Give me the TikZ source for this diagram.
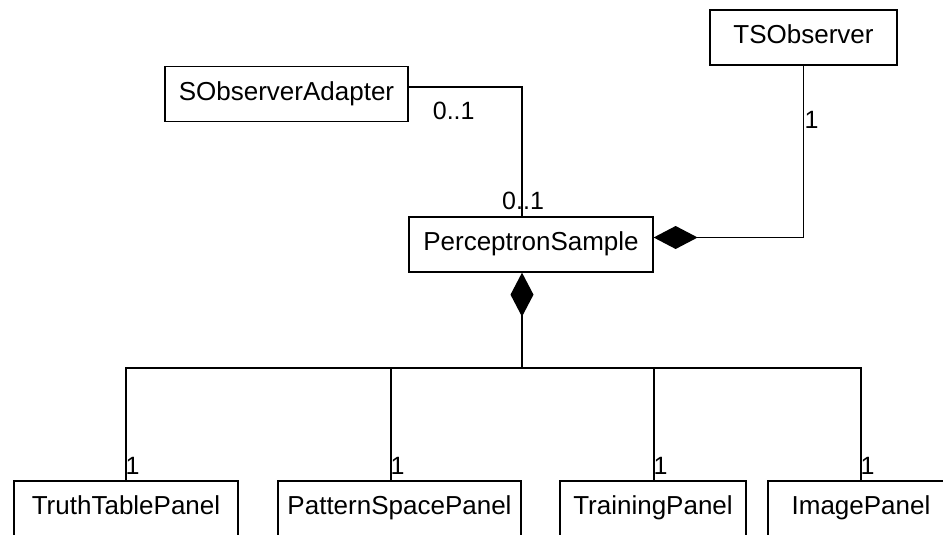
\documentclass[tikz,border=0pt]{standalone}
\usepackage{fontspec}
\setmainfont{Liberation Sans}
\usepackage{tikz}
\usetikzlibrary{arrows.meta, positioning}

\begin{document}
\begin{tikzpicture}[
    x=1pt, y=-1pt,
    umlclass/.style={rectangle, draw=black, fill=white, line width=1.3pt,
                     minimum height=55pt, inner sep=0pt, text height=19pt, text depth=7pt,
                     font=\fontsize{26}{30}\selectfont},
    assoc/.style={draw=black, line width=1.3pt},
    composition/.style={assoc, {Diamond[length=44pt, width=23pt]}-},
    mult/.style={font=\fontsize{25}{30}\selectfont, inner sep=0pt, anchor=base west}
]
\useasboundingbox (0,0) rectangle (943,535);
\clip (0,0) rectangle (943,535);

% classes
\node[umlclass, minimum width=243pt] (adapter) at (286.5,94) {SObserverAdapter};
\node[umlclass, minimum width=187pt] (tso) at (803.5,37.5) {TSObserver};
\node[umlclass, minimum width=244pt] (sample) at (531,244.5) {PerceptronSample};

\node[umlclass, minimum width=224pt] (truth) at (126,508.5) {TruthTablePanel};
\node[umlclass, minimum width=243pt] (pattern) at (399.5,508.5) {PatternSpacePanel};
\node[umlclass, minimum width=186pt] (training) at (653,508.5) {TrainingPanel};
\node[umlclass, minimum width=186pt] (image) at (861,508.5) {ImagePanel};

% associations
\draw[assoc] ([yshift=7pt]adapter.east) -| ([xshift=-9pt]sample.north);
\node[mult] at ([xshift=24pt, yshift=-26pt]adapter.east) {0..1};
\node[mult] at ([xshift=-29pt, yshift=7pt]sample.north) {0..1};

\draw[composition] ([yshift=7pt]sample.east) -| (tso.south);
\node[mult] at ([xshift=1pt, yshift=-63pt]tso.south) {1};

% panels
\coordinate (bus) at (522,368);
\draw[composition] ([xshift=-9pt]sample.south) -- (bus);
\draw[assoc] (bus) -| (truth.north) node[mult, pos=1, xshift=-1pt, yshift=6pt] {1};
\draw[assoc] (bus) -| ([xshift=-8.5pt]pattern.north) node[mult, pos=1, xshift=-1pt, yshift=6pt] {1};
\draw[assoc] (bus) -| ([xshift=1pt]training.north) node[mult, pos=1, xshift=-1pt, yshift=6pt] {1};
\draw[assoc] (bus) -| (image.north) node[mult, pos=1, xshift=-1pt, yshift=6pt] {1};

\end{tikzpicture}
\end{document}
